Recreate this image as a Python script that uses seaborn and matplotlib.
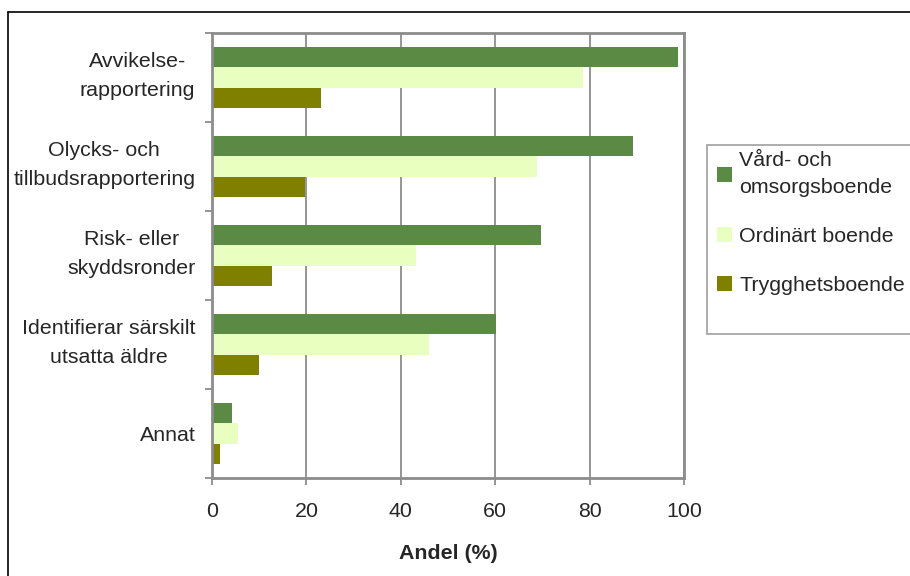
import numpy as np
import pandas as pd
import matplotlib
matplotlib.use("Agg")
import matplotlib.pyplot as plt
import matplotlib.transforms as mtransforms
import seaborn as sns
from matplotlib.patches import Patch, Rectangle
from matplotlib.lines import Line2D

categories = ["Avvikelse-\nrapportering", "Olycks- och\ntillbudsrapportering",
              "Risk- eller\nskyddsronder", "Identifierar särskilt\nutsatta äldre", "Annat"]
series = ["Vård- och\nomsorgsboende", "Ordinärt boende", "Trygghetsboende"]
vard = [98.8, 89.1, 69.6, 60.1, 4.3]
ordinart = [78.5, 68.8, 43.3, 45.9, 5.6]
trygghet = [23.0, 19.6, 12.8, 9.9, 1.8]
colors = ["#5B8A44", "#E8FFC0", "#808000"]
x_ticks = [0, 20, 40, 60, 80, 100]
x_label = "Andel (%)"

sns.set_theme(style="white")
plt.rcParams["font.family"] = ["Liberation Sans", "DejaVu Sans"]

rows = []
for s, vals in zip(series, [vard, ordinart, trygghet]):
    for c, v in zip(categories, vals):
        rows.append({"Kategori": c, "Serie": s, "Andel": v})
df = pd.DataFrame(rows)

W, H = 910, 576
fig = plt.figure(figsize=(W / 100, H / 100), dpi=100)
fig.patch.set_facecolor("white")
ax = fig.add_axes([212 / W, 1 - 478 / H, (684 - 212) / W, (478 - 33) / H])

sns.barplot(data=df, y="Kategori", x="Andel", hue="Serie", order=categories,
            hue_order=series, palette=colors, orient="h", width=0.69,
            saturation=1, legend=False, ax=ax, linewidth=0)

fs = 15.4
grid_c = "#8c8c8c"
ax.set_xlim(0, 100)
ax.set_ylim(4.5, -0.5)
ax.set_xticks(x_ticks)
ax.set_xticklabels([str(t) for t in x_ticks], fontsize=fs)
ax.set_axisbelow(True)
ax.xaxis.grid(True, color=grid_c, lw=1.3)
ax.yaxis.grid(False)
for sp in ax.spines.values():
    sp.set_color(grid_c)
    sp.set_linewidth(2)

ax.set_yticks(range(len(categories)))
ax.set_yticklabels(categories, fontsize=fs, linespacing=1.65, multialignment="center")
ax.set_yticks(np.arange(-0.5, len(categories), 1), minor=True)
ax.tick_params(axis="y", which="major", length=0, pad=12)
ax.tick_params(axis="y", which="minor", length=5, width=1.3, color=grid_c, left=True)
ax.tick_params(axis="x", which="major", length=5, width=1.3, color=grid_c, bottom=True, pad=12)
ax.set_ylabel("")
ax.set_xlabel(x_label, fontsize=fs, fontweight="bold", labelpad=17)

# nudge two-line category labels up slightly, as in the reference
shift = mtransforms.ScaledTranslation(0, 6 / 72, fig.dpi_scale_trans)
for lab in ax.get_yticklabels():
    if "\n" in lab.get_text():
        lab.set_transform(lab.get_transform() + shift)

# legend frame (Excel-style box running past the right edge)
fig.add_artist(Rectangle((707 / W, 1 - 334 / H), (930 - 707) / W, (334 - 145) / H,
                         transform=fig.transFigure, facecolor="white",
                         edgecolor="#a0a0a0", lw=1.2, clip_on=False))
handles = [Patch(facecolor=c, edgecolor="none") for c in colors]
leg = fig.legend(handles, series, loc="upper left",
                 bbox_to_anchor=(711 / W, 1 - 145 / H), bbox_transform=fig.transFigure,
                 fontsize=fs, frameon=False,
                 handlelength=0.7, handleheight=0.7, handletextpad=0.32,
                 labelspacing=1.4, borderpad=0.3, borderaxespad=0)
for t in leg.get_texts():
    t.set_linespacing(1.5)

fig.add_artist(Line2D([8 / W, 8 / W], [0, 1 - 12 / H], color="black", lw=1.2, transform=fig.transFigure))
fig.add_artist(Line2D([8 / W, 1], [1 - 12 / H, 1 - 12 / H], color="black", lw=1.2, transform=fig.transFigure))

fig.savefig("out.png", dpi=100)
